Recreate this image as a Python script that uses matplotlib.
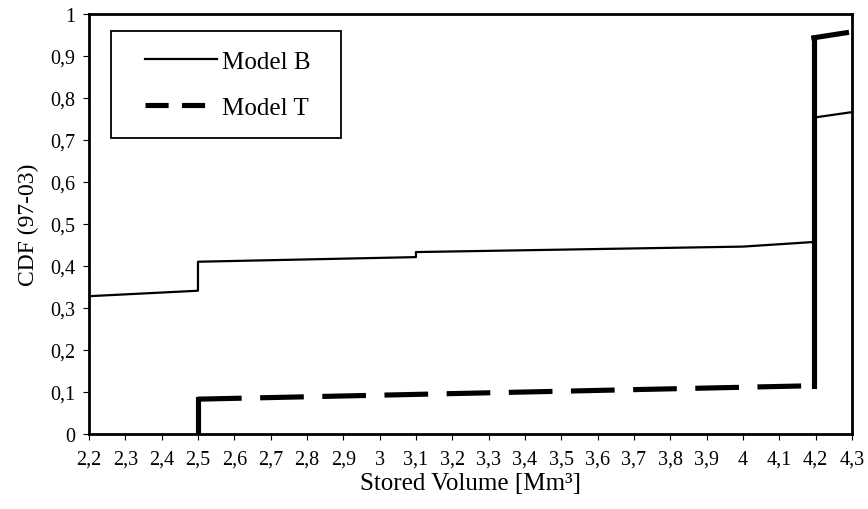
import matplotlib

matplotlib.use("Agg")
import matplotlib.pyplot as plt
from matplotlib.lines import Line2D
from matplotlib.patches import Rectangle
import numpy as np

# stored volume [Mm3] vs CDF, step-like curves
model_b_x = [2.2, 2.5, 2.5, 3.1, 3.1, 4.0, 4.195, 4.195, 4.3]
model_b_y = [0.328, 0.341, 0.410, 0.421, 0.433, 0.446, 0.457, 0.753, 0.766]

model_t_x = [2.5, 2.5, 4.195, 4.195, 4.285]
model_t_y = [0.0, 0.083, 0.115, 0.943, 0.955]

x_ticks = np.round(np.arange(2.2, 4.301, 0.1), 1)
y_ticks = np.round(np.arange(0, 1.001, 0.1), 1)


def comma(v):
    return f"{v:g}".replace(".", ",")


plt.rcParams["font.family"] = ["Liberation Serif", "DejaVu Serif"]

fig = plt.figure(figsize=(8.68, 5.1), dpi=100)
ax = fig.add_axes([0.1025, 0.147, 0.879, 0.824])

T_LW = 3.7
T_DASH = (8.5, 3.6)

ax.plot(model_b_x, model_b_y, color="black", linewidth=1.6)

# Model T: long horizontal runs dashed, the steps drawn solid
for i in range(len(model_t_x) - 1):
    xs = model_t_x[i:i + 2]
    ys = model_t_y[i:i + 2]
    if xs[1] - xs[0] > 0.5:
        ax.plot(xs, ys, color="black", linewidth=T_LW, dashes=T_DASH,
                dash_capstyle="butt")
    else:
        ax.plot(xs, ys, color="black", linewidth=T_LW, solid_capstyle="projecting")

ax.set_xlim(2.2, 4.3)
ax.set_ylim(0, 1)
ax.set_xticks(x_ticks, [comma(v) for v in x_ticks])
ax.set_yticks(y_ticks, [comma(v) for v in y_ticks])
ax.tick_params(labelsize=14.5, length=4, width=0.8, direction="out")
ax.tick_params(axis="x", pad=17.5)
ax.tick_params(axis="y", pad=6)
for t in ax.get_xticklabels():
    t.set_verticalalignment("baseline")
for s in ax.spines.values():
    s.set_linewidth(2)

ax.set_xlabel("Stored Volume [Mm³]", fontsize=18, labelpad=2)
ax.set_ylabel("CDF (97-03)", fontsize=17, labelpad=8)

# legend box
ax.add_patch(Rectangle((0.0288, 0.705), 0.301, 0.2545, transform=ax.transAxes,
                       fill=False, edgecolor="black", linewidth=1.3, zorder=4))
handles = [
    Line2D([], [], color="black", linewidth=1.6),
    Line2D([], [], color="black", linewidth=T_LW, dashes=(4.5, 2.6), dash_capstyle="butt"),
]
ax.legend(handles, ["Model B", "Model T"], loc="center left",
          bbox_to_anchor=(0.0734, 0.832), fontsize=18, frameon=False,
          handlelength=2.9, handletextpad=0.2, borderpad=0, borderaxespad=0,
          labelspacing=0.95)

fig.savefig("out.png", dpi=100)
